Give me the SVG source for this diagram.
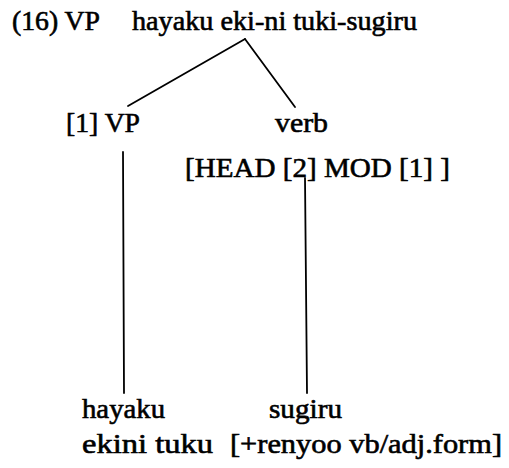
<svg xmlns="http://www.w3.org/2000/svg" width="509" height="468" viewBox="0 0 509 468">
<style>
text{font-family:"Liberation Serif","Times New Roman",serif;font-size:27px;fill:#000;stroke:#000;stroke-width:0.6}
.e{stroke:#000;stroke-width:1.8;fill:none;stroke-linecap:round}
</style>
<rect width="509" height="468" fill="#fff"/>
<g id="title"><text x="12" y="30" textLength="88" lengthAdjust="spacingAndGlyphs">(16) VP</text></g>
<g id="root"><text x="132" y="30" textLength="285" lengthAdjust="spacingAndGlyphs">hayaku eki-ni tuki-sugiru</text></g>
<g id="vp1"><text x="66" y="132" textLength="74" lengthAdjust="spacingAndGlyphs">[1] VP</text></g>
<g id="verb"><text x="275" y="132" textLength="53" lengthAdjust="spacingAndGlyphs">verb</text>
<text x="185" y="177" textLength="265" lengthAdjust="spacingAndGlyphs">[HEAD [2] MOD [1] ]</text></g>
<g id="hayaku"><text x="82" y="418" textLength="83" lengthAdjust="spacingAndGlyphs">hayaku</text>
<text x="82" y="453" textLength="131" lengthAdjust="spacingAndGlyphs">ekini tuku</text></g>
<g id="sugiru"><text x="269" y="418" textLength="73" lengthAdjust="spacingAndGlyphs">sugiru</text>
<text x="230" y="453" textLength="272" lengthAdjust="spacingAndGlyphs">[+renyoo vb/adj.form]</text></g>
<g id="connectors">
<line class="e" x1="245" y1="39" x2="128" y2="106"/>
<line class="e" x1="245" y1="39" x2="295" y2="107"/>
<line class="e" x1="123" y1="152" x2="124" y2="393"/>
<line class="e" x1="305" y1="178" x2="307" y2="393"/>
</g>
</svg>
